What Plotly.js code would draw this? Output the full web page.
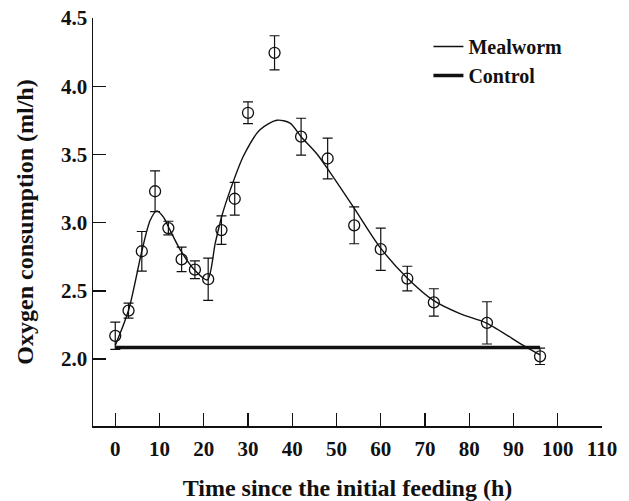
<!DOCTYPE html>
<html>
<head>
<meta charset="utf-8">
<script src="https://cdn.plot.ly/plotly-3.0.1.min.js"></script>
<style>html,body{margin:0;padding:0;background:#fff;}#chart{width:629px;height:501px;}</style>
</head>
<body>
<div id="chart"></div>
<script>
// Measured mealworm oxygen consumption (mean ± error)
const timeH = [0, 3, 6, 9, 12, 15, 18, 21, 24, 27, 30, 36, 42, 48, 54, 60, 66, 72, 84, 96];
const oxygen = [2.17, 2.355, 2.79, 3.23, 2.96, 2.73, 2.655, 2.585, 2.945, 3.175, 3.805, 4.245, 3.63, 3.47, 2.98, 2.805, 2.59, 2.415, 2.265, 2.02];
const oxygenErr = [0.10, 0.055, 0.145, 0.15, 0.05, 0.09, 0.065, 0.155, 0.105, 0.12, 0.08, 0.125, 0.135, 0.15, 0.135, 0.155, 0.09, 0.10, 0.155, 0.06];

// Fitted mealworm curve
const fitTime = [0, 3, 6, 7.9, 9.4, 10.9, 12, 14.7, 18, 20.8, 22.6, 24.1, 26, 29, 32.7, 36.5, 39.5, 42, 45.5, 48.5, 53.8, 59.8, 65.8, 71.9, 77.9, 83.9, 92.2, 96];
const fitOxygen = [2.10, 2.357, 2.79, 3.017, 3.086, 3.04, 2.97, 2.80, 2.65, 2.58, 2.85, 3.05, 3.24, 3.49, 3.68, 3.75, 3.73, 3.63, 3.507, 3.37, 3.115, 2.82, 2.60, 2.43, 2.333, 2.264, 2.10, 2.03];

// Control level
const controlTime = [0, 96];
const controlOxygen = [2.085, 2.085];

const xTicks = [0, 10, 20, 30, 40, 50, 60, 70, 80, 90, 100, 110];
const yTicks = [2.0, 2.5, 3.0, 3.5, 4.0, 4.5];

const serif = 'Liberation Serif, Times New Roman, serif';

const traces = [
  {
    x: fitTime, y: fitOxygen, type: 'scatter', mode: 'lines', name: 'Mealworm',
    line: {color: '#111', width: 1.4, shape: 'spline', smoothing: 0.8}
  },
  {
    x: controlTime, y: controlOxygen, type: 'scatter', mode: 'lines', name: 'Control',
    line: {color: '#111', width: 3.5}
  },
  {
    x: timeH, y: oxygen, type: 'scatter', mode: 'markers', name: 'Measured', showlegend: false,
    marker: {symbol: 'circle-open', size: 11, color: '#111', line: {width: 1.3, color: '#111'}},
    error_y: {type: 'data', array: oxygenErr, visible: true, color: '#111', thickness: 1.2, width: 5}
  }
];

const layout = {
  width: 629, height: 501,
  margin: {l: 93, r: 27, t: 18, b: 75},
  paper_bgcolor: '#fff', plot_bgcolor: '#fff',
  font: {family: serif, size: 20, color: '#111', weight: 'bold'},
  showlegend: true,
  legend: {
    x: 0.659, xanchor: 'left', y: 0.978, yanchor: 'top',
    bgcolor: 'rgba(0,0,0,0)', borderwidth: 0,
    font: {family: serif, size: 20, color: '#111', weight: 'bold'},
    tracegroupgap: 0
  },
  xaxis: {
    range: [-5.03, 110], tickvals: xTicks, ticktext: xTicks.map(String),
    showgrid: false, zeroline: false, showline: true, linecolor: '#111', linewidth: 1.5,
    ticks: 'inside', ticklen: 13, tickwidth: 1.4, tickcolor: '#111', ticklabelstandoff: 3,
    tickfont: {family: serif, size: 21, color: '#111', weight: 'bold'},
    title: {text: 'Time since the initial feeding (h)', font: {family: serif, size: 24, color: '#111', weight: 'bold'}, standoff: 22}
  },
  yaxis: {
    range: [1.509, 4.5], tickvals: yTicks, ticktext: yTicks.map(v => v.toFixed(1)),
    showgrid: false, zeroline: false, showline: true, linecolor: '#111', linewidth: 1.5,
    ticks: 'inside', ticklen: 13, tickwidth: 1.4, tickcolor: '#111',
    tickfont: {family: serif, size: 21, color: '#111', weight: 'bold'},
    title: {text: 'Oxygen consumption (ml/h)', font: {family: serif, size: 24, color: '#111', weight: 'bold'}, standoff: 20}
  }
};

Plotly.newPlot('chart', traces, layout, {displayModeBar: false, staticPlot: true});
</script>
</body>
</html>
